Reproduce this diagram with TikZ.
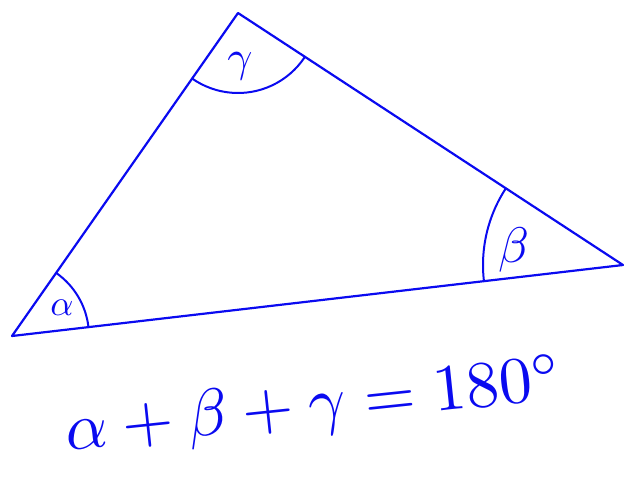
\documentclass[tikz,border=0pt]{standalone}
\usepackage{amsmath}
\usepackage{tikz}
\usetikzlibrary{calc}
\definecolor{ink}{HTML}{0A0AF0}
\tikzset{
  side/.style={draw=ink, line width=2.2pt, line cap=round, line join=round},
  anglearc/.style={draw=ink, line width=2pt, line cap=round},
  anglelabel/.style={text=ink, inner sep=0pt},
  formula/.style={text=ink, inner sep=0pt, scale=6.6},
}
\begin{document}
\begin{tikzpicture}[x=1pt, y=1pt]
  \useasboundingbox (0,0) rectangle (624,-485);

  \coordinate (A) at (12,-336);
  \coordinate (B) at (623,-265);
  \coordinate (C) at (238,-13);

  \draw[side] (A) -- (B) -- (C) -- cycle;

  \draw[anglearc] ($(A)+(6.6:77)$) arc[start angle=6.6, end angle=55, radius=77];
  \draw[anglearc] ($(C)+(235:80)$) arc[start angle=235, end angle=326.8, radius=80];
  \draw[anglearc] ($(B)+(146.8:140)$) arc[start angle=146.8, end angle=186.6, radius=140];

  \node[anglelabel, scale=3.6] (alpha) at (62,-308) {$\alpha$};
  \node[anglelabel, scale=4.4] (gamma) at (240,-66) {$\gamma$};
  \node[anglelabel, scale=5] (beta) at (514,-250) {$\beta$};

  \node[formula, rotate=6] (sum) at (314,-408) {$\alpha+\beta+\gamma=180^\circ$};
\end{tikzpicture}
\end{document}
